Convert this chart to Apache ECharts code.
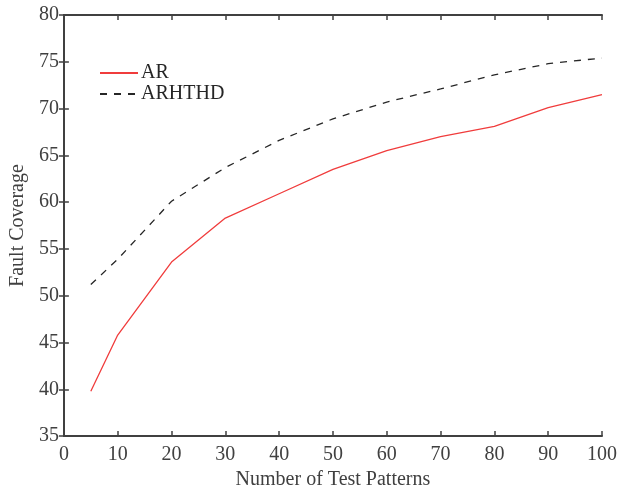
<!DOCTYPE html>
<html>
<head>
<meta charset="utf-8">
<script src="https://cdn.jsdelivr.net/npm/echarts@6/dist/echarts.min.js"></script>
<style>
  html, body { margin: 0; padding: 0; background: #fff; overflow: hidden; }
  #chart { width: 628px; height: 495px; }
</style>
</head>
<body>
<div id="chart"></div>
<script>
// Number of test patterns (x values)
const patterns = [5, 10, 20, 30, 40, 50, 60, 70, 80, 90, 100];
// Fault coverage for each method
const arCoverage = [39.8, 45.8, 53.6, 58.3, 60.9, 63.5, 65.5, 67.0, 68.1, 70.1, 71.5];
const arhthdCoverage = [51.2, 53.9, 60.1, 63.7, 66.6, 68.9, 70.7, 72.1, 73.6, 74.8, 75.4];
const seriesNames = ['AR', 'ARHTHD'];

const font = '"Liberation Serif", "DejaVu Serif", serif';
const axisColor = '#404040';
const labelSize = 20;
const titleSize = 20;

const pairs = (ys) => patterns.map((x, i) => [x, ys[i]]);

const chart = echarts.init(document.getElementById('chart'), null, { renderer: 'canvas' });

const axisLine = { show: true, lineStyle: { color: axisColor, width: 2 } };
const axisTick = { show: true, inside: true, length: 5, lineStyle: { color: axisColor, width: 1.5 } };

chart.setOption({
  animation: false,
  backgroundColor: '#fff',
  grid: { left: 63, right: 26, top: 15, bottom: 53, containLabel: false },
  legend: {
    orient: 'vertical',
    left: 99,
    top: 63,
    padding: 0,
    itemWidth: 38,
    itemHeight: 14,
    itemGap: 1,
    itemStyle: { opacity: 0 },
    textStyle: { fontFamily: font, fontSize: labelSize, color: '#262626', padding: [0, 0, 0, -2] },
    data: seriesNames
  },
  xAxis: [
    {
      type: 'value', min: 0, max: 100, interval: 10,
      name: 'Number of Test Patterns', nameLocation: 'middle', nameGap: 32,
      nameTextStyle: { fontFamily: font, fontSize: titleSize, color: axisColor },
      axisLine, axisTick,
      axisLabel: { fontFamily: font, fontSize: labelSize, color: axisColor, margin: 9 },
      splitLine: { show: false }
    },
    {
      type: 'value', min: 0, max: 100, interval: 10, position: 'top',
      axisLine, axisTick,
      axisLabel: { show: false },
      splitLine: { show: false }
    }
  ],
  yAxis: [
    {
      type: 'value', min: 35, max: 80, interval: 5,
      name: 'Fault Coverage', nameLocation: 'middle', nameGap: 29,
      nameTextStyle: { fontFamily: font, fontSize: titleSize, color: axisColor },
      axisLine, axisTick,
      axisLabel: { fontFamily: font, fontSize: labelSize, color: axisColor, margin: 5 },
      splitLine: { show: false }
    },
    {
      type: 'value', min: 35, max: 80, interval: 5, position: 'right',
      axisLine, axisTick,
      axisLabel: { show: false },
      splitLine: { show: false }
    }
  ],
  series: [
    {
      name: seriesNames[0], type: 'line', xAxisIndex: 0, yAxisIndex: 0,
      data: pairs(arCoverage), symbol: 'none',
      itemStyle: { color: '#f03c3c' },
      lineStyle: { color: '#f03c3c', width: 1.3 }
    },
    {
      name: seriesNames[1], type: 'line', xAxisIndex: 0, yAxisIndex: 0,
      data: pairs(arhthdCoverage), symbol: 'none',
      itemStyle: { color: '#262626' },
      lineStyle: { color: '#262626', width: 1.3, type: [7, 7] }
    }
  ]
});
</script>
</body>
</html>
